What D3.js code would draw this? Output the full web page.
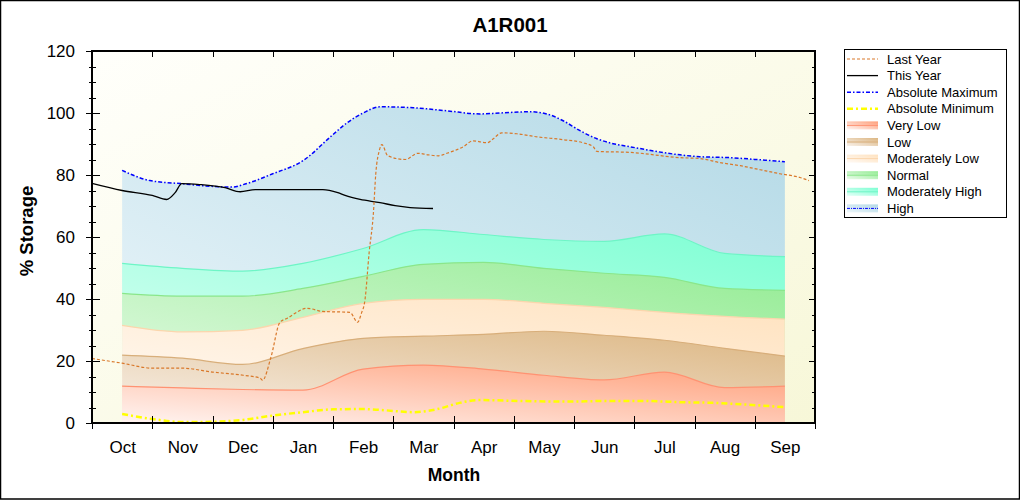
<!DOCTYPE html>
<html>
<head>
<meta charset="utf-8">
<script src="https://cdn.jsdelivr.net/npm/d3@7"></script>
<style>
  body { margin: 0; background: #fff; }
  svg { font-family: "Liberation Sans", Arial, sans-serif; display: block; }
</style>
</head>
<body>
<svg id="chart" width="1020" height="500"></svg>
<script>
// water year months, Oct..Sep
const months = ['Oct', 'Nov', 'Dec', 'Jan', 'Feb', 'Mar', 'Apr', 'May', 'Jun', 'Jul', 'Aug', 'Sep'];

// band boundaries read at mid-month
const bandX = [0.5, 1.5, 2.5, 3.5, 4.5, 5.5, 6.5, 7.5, 8.5, 9.5, 10.5, 11.5];
const modHighTop = [51.5, 49.9, 49.0, 51.5, 56.3, 62.4, 60.8, 59.2, 58.6, 61.0, 54.7, 53.7];
const normalTop = [41.8, 40.9, 40.9, 43.4, 47.3, 51.2, 51.8, 49.9, 48.3, 47.0, 43.4, 42.8];
const modLowTop = [31.5, 29.4, 29.9, 34.1, 38.6, 39.9, 39.9, 38.6, 37.3, 35.7, 34.4, 33.5];
const lowTop = [21.9, 20.9, 18.9, 24.0, 27.3, 28.0, 28.6, 29.6, 28.3, 26.7, 24.1, 21.6];
const veryLowTop = [11.9, 11.3, 10.8, 10.6, 17.4, 18.7, 17.4, 15.4, 13.9, 16.4, 11.4, 11.9];

// absolute maximum (top of the High band)
const absMaxX = [0.5, 0.96, 1.49, 2.01, 2.34, 2.51, 3.0, 3.5, 3.98, 4.23, 4.5, 4.78, 5.33, 5.89, 6.44, 6.77, 7.27, 7.55, 7.82, 8.1, 8.38, 8.65, 8.93, 9.76, 10.09, 10.59, 11.09, 11.5];
const absMax = [81.5, 78.2, 77.2, 76.3, 76.1, 76.9, 80.4, 84.6, 92.7, 96.8, 100, 102, 101.7, 100.7, 99.7, 100, 100.4, 99.7, 97.5, 94.3, 91.7, 90.1, 89.1, 86.5, 85.9, 85.6, 84.9, 84.3];

// absolute minimum
const absMinX = [0.5, 1.0, 1.5, 2.0, 2.5, 3.0, 3.5, 4.0, 4.5, 4.8, 5.33, 5.78, 6.1, 6.44, 7.1, 7.9, 8.5, 9.15, 9.8, 10.3, 10.8, 11.5];
const absMin = [2.9, 1.3, 0.3, 0.4, 1.0, 2.4, 3.5, 4.4, 4.5, 4.2, 3.5, 4.7, 6.5, 7.4, 7.1, 6.9, 7.1, 7.1, 6.7, 6.5, 6.0, 5.1];

// last year
const lastYearX = [0, 0.5, 1.0, 1.49, 2.01, 2.51, 2.79, 2.83, 2.97, 3.12, 3.24, 3.57, 3.83, 4.28, 4.41, 4.47, 4.53, 4.6, 4.67, 4.71, 4.77, 4.81, 4.91, 5.2, 5.41, 5.58, 5.75, 5.89, 6.16, 6.32, 6.56, 6.66, 6.8, 7.05, 7.39, 7.82, 8.15, 8.32, 8.38, 8.93, 9.76, 10.09, 10.42, 10.76, 11.09, 11.42, 11.75, 11.9];
const lastYear = [20.8, 19.3, 17.7, 17.7, 16.4, 15.4, 14.5, 13.8, 21.2, 32.5, 33.8, 37.0, 36.0, 35.7, 32.5, 35.3, 39.6, 55, 67.6, 80.4, 88, 89.8, 86.2, 85.0, 87.0, 86.5, 86.2, 87.0, 89.1, 91.0, 90.4, 91.7, 93.6, 93.3, 92.3, 91.4, 90.4, 89.1, 87.6, 87.3, 85.6, 85.3, 84.0, 83.0, 81.7, 80.4, 79.2, 78.2];

// this year
const thisYearX = [0, 0.5, 1.0, 1.24, 1.38, 1.49, 1.79, 2.21, 2.46, 2.71, 3.83, 4.08, 4.2, 4.45, 4.78, 5.03, 5.28, 5.66];
const thisYear = [77.3, 75.0, 73.4, 72.1, 74.3, 77.2, 76.9, 75.9, 74.6, 75.3, 75.3, 74.3, 73.4, 72.1, 71.1, 70.1, 69.5, 69.2];

const yTicks = [0, 20, 40, 60, 80, 100, 120];

const width = 1020;
const height = 500;
const margin = { top: 51, right: 205, bottom: 77, left: 92 };

const svg = d3.select('#chart');
const defs = svg.append('defs');

const x = d3.scaleLinear().domain([0, 12]).range([margin.left, width - margin.right]);
const y = d3.scaleLinear().domain([0, 120]).range([height - margin.bottom, margin.top]);

const zip = (xs, vs) => xs.map((d, i) => [d, vs[i]]);

function diagGradient(id, from, to) {
  const g = defs.append('linearGradient').attr('id', id)
    .attr('x1', 0).attr('y1', 1).attr('x2', 1).attr('y2', 0);
  g.append('stop').attr('offset', 0).attr('stop-color', from);
  g.append('stop').attr('offset', 1).attr('stop-color', to);
}

// outer frame
svg.append('rect')
  .attr('x', 0.5).attr('y', 0.5).attr('width', width - 1).attr('height', height - 1.5)
  .attr('fill', '#fff').attr('stroke', '#000').attr('stroke-width', 1.5);

// plot background
const bg = defs.append('linearGradient').attr('id', 'bg')
  .attr('x1', 0).attr('y1', 0).attr('x2', 1).attr('y2', 1);
bg.append('stop').attr('offset', 0).attr('stop-color', '#fffffb');
bg.append('stop').attr('offset', 1).attr('stop-color', '#f7f7d8');

svg.append('rect')
  .attr('x', x(0)).attr('y', y(120))
  .attr('width', x(12) - x(0)).attr('height', y(0) - y(120))
  .attr('fill', 'url(#bg)');

// bands, painted top-down so lower ones cover higher ones
const bands = [
  { name: 'High', pts: zip(absMaxX, absMax), light: '#eef7fb', dark: '#b3d9e6', edge: null },
  { name: 'Moderately High', pts: zip(bandX, modHighTop), light: '#e2fff6', dark: '#7dffd3', edge: '#6ef5c6' },
  { name: 'Normal', pts: zip(bandX, normalTop), light: '#eafbea', dark: '#94ec94', edge: '#8ae68a' },
  { name: 'Moderately Low', pts: zip(bandX, modLowTop), light: '#fffaf5', dark: '#ffe2bf', edge: '#fbd6ad' },
  { name: 'Low', pts: zip(bandX, lowTop), light: '#f8f1ea', dark: '#dcb682', edge: '#d8ae7a' },
  { name: 'Very Low', pts: zip(bandX, veryLowTop), light: '#fff4f1', dark: '#ff9e78', edge: '#ff9272' }
];

const area = d3.area()
  .x(d => x(d[0]))
  .y0(y(0))
  .y1(d => y(d[1]))
  .curve(d3.curveMonotoneX);

const line = d3.line()
  .x(d => x(d[0]))
  .y(d => y(d[1]))
  .curve(d3.curveMonotoneX);

bands.forEach((b, i) => {
  diagGradient('band' + i, b.light, b.dark);
  svg.append('path').attr('d', area(b.pts)).attr('fill', `url(#band${i})`);
  if (b.edge) {
    svg.append('path').attr('d', line(b.pts))
      .attr('fill', 'none').attr('stroke', b.edge).attr('stroke-width', 1.2);
  }
});

// lines
const series = [
  { name: 'Last Year', pts: zip(lastYearX, lastYear), color: '#d9782a', w: 1.2, dash: '3,2' },
  { name: 'This Year', pts: zip(thisYearX, thisYear), color: '#000', w: 1.3, dash: null },
  { name: 'Absolute Maximum', pts: zip(absMaxX, absMax), color: '#0000ff', w: 1.5, dash: '4,2,1.5,2' },
  { name: 'Absolute Minimum', pts: zip(absMinX, absMin), color: '#ffff00', w: 2.5, dash: '6,3,2,3' }
];

series.slice().reverse().forEach(s => {
  svg.append('path').attr('d', line(s.pts))
    .attr('fill', 'none').attr('stroke', s.color)
    .attr('stroke-width', s.w).attr('stroke-dasharray', s.dash);
});

// axes
const minorY = d3.range(0, 121, 5);
const monthEdges = d3.range(0, 13);
const plain = g => g.call(g => g.select('.domain').remove())
  .attr('shape-rendering', 'crispEdges');

// left: crossing ticks
svg.append('g').attr('transform', `translate(${x(0)},0)`)
  .call(d3.axisLeft(y).tickValues(yTicks).tickSize(6).tickPadding(11))
  .call(plain)
  .call(g => g.selectAll('text').attr('font-size', 17).attr('fill', '#000'));
svg.append('g').attr('transform', `translate(${x(0)},0)`)
  .call(d3.axisRight(y).tickValues(yTicks).tickSize(8).tickFormat(''))
  .call(plain);
svg.append('g').attr('transform', `translate(${x(0)},0)`)
  .call(d3.axisLeft(y).tickValues(minorY).tickSize(3).tickFormat(''))
  .call(plain);
svg.append('g').attr('transform', `translate(${x(0)},0)`)
  .call(d3.axisRight(y).tickValues(minorY).tickSize(4).tickFormat(''))
  .call(plain);

// right: inward ticks
svg.append('g').attr('transform', `translate(${x(12)},0)`)
  .call(d3.axisLeft(y).tickValues(yTicks).tickSize(6).tickFormat(''))
  .call(plain);
svg.append('g').attr('transform', `translate(${x(12)},0)`)
  .call(d3.axisLeft(y).tickValues(minorY).tickSize(3).tickFormat(''))
  .call(plain);

// top: inward ticks at month edges
svg.append('g').attr('transform', `translate(0,${y(120)})`)
  .call(d3.axisBottom(x).tickValues(monthEdges).tickSize(6).tickFormat(''))
  .call(plain);

// bottom: crossing ticks and month labels
svg.append('g').attr('transform', `translate(0,${y(0)})`)
  .call(d3.axisBottom(x).tickValues(monthEdges).tickSize(6).tickFormat(''))
  .call(plain);
svg.append('g').attr('transform', `translate(0,${y(0)})`)
  .call(d3.axisTop(x).tickValues(monthEdges).tickSize(7).tickFormat(''))
  .call(plain);
svg.append('g').attr('transform', `translate(0,${y(0)})`)
  .call(d3.axisBottom(x).tickValues(bandX).tickSize(0).tickPadding(18)
    .tickFormat((d, i) => months[i]))
  .call(plain)
  .call(g => g.selectAll('text').attr('font-size', 17).attr('fill', '#000'));

// plot frame
svg.append('rect')
  .attr('x', x(0)).attr('y', y(120))
  .attr('width', x(12) - x(0)).attr('height', y(0) - y(120))
  .attr('fill', 'none').attr('stroke', '#000').attr('stroke-width', 1.3)
  .attr('shape-rendering', 'crispEdges');

// titles
svg.append('text').attr('x', 510).attr('y', 32).attr('text-anchor', 'middle')
  .attr('font-size', 20.5).attr('font-weight', 'bold').text('A1R001');
svg.append('text').attr('x', 454).attr('y', 481).attr('text-anchor', 'middle')
  .attr('font-size', 17.5).attr('font-weight', 'bold').text('Month');
svg.append('text').attr('transform', 'translate(33,231) rotate(-90)').attr('text-anchor', 'middle')
  .attr('font-size', 18.5).attr('font-weight', 'bold').text('% Storage');

// legend
const legend = svg.append('g');
legend.append('rect').attr('x', 844.5).attr('y', 49.5).attr('width', 162).attr('height', 168)
  .attr('fill', '#fff').attr('stroke', '#000').attr('stroke-width', 1);

const legendItems = series.map(s => ({ name: s.name, line: s }))
  .concat(bands.slice().reverse().map((b, i) => ({ name: b.name, band: b, idx: bands.length - 1 - i })));

legendItems.forEach((it, i) => {
  const cy = 59 + i * 16.6;
  const g = legend.append('g');
  if (it.line) {
    g.append('line').attr('x1', 847).attr('x2', 878).attr('y1', cy).attr('y2', cy)
      .attr('stroke', it.line.color).attr('stroke-width', it.line.w)
      .attr('stroke-dasharray', it.line.dash);
  } else {
    g.append('rect').attr('x', 847).attr('y', cy - 4).attr('width', 31).attr('height', 8)
      .attr('fill', `url(#band${it.idx})`);
    g.append('line').attr('x1', 847).attr('x2', 878).attr('y1', cy).attr('y2', cy)
      .attr('stroke', it.band.edge || '#0000ff').attr('stroke-width', 1)
      .attr('stroke-dasharray', it.band.edge ? null : '3,1,1,1');
  }
  g.append('text').attr('x', 887).attr('y', cy).attr('dy', '0.35em')
    .attr('font-size', 13).attr('fill', '#000').text(it.name);
});
</script>
</body>
</html>
